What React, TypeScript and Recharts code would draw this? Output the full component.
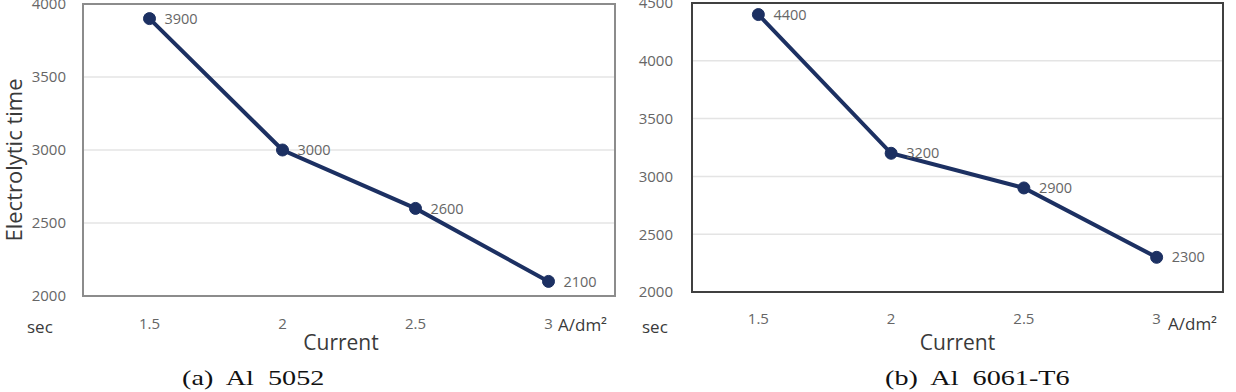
/* ── Electrolytic time vs current, two alloys side by side ── */

import {
  LineChart,
  Line,
  XAxis,
  YAxis,
  CartesianGrid,
  LabelList,
  ReferenceArea,
} from "recharts";

const currents = ["1.5", "2", "2.5", "3"];
const al5052Time = [3900, 3000, 2600, 2100];
const al6061Time = [4400, 3200, 2900, 2300];
const al5052Ticks = [2000, 2500, 3000, 3500, 4000];
const al6061Ticks = [2000, 2500, 3000, 3500, 4000, 4500];

const LINE = "#1c3062";
const TICK = "#666666";
const TITLE = "#3a3a3a";
const FONT = "'Open Sans', sans-serif";

interface TimeChartProps {
  values: number[];
  ticks: number[];
  width: number;
  height: number;
  yAxisWidth: number;
  xAxisHeight: number;
  margin: { top: number; right: number; left: number; bottom: number };
  yTickMargin: number;
  xTickMargin: number;
  borderColor: string;
  yTitle?: string;
  xTitleDx?: number;
}

function TimeChart(p: TimeChartProps) {
  const data = currents.map((c, i) => ({ current: c, time: p.values[i] }));
  const lo = p.ticks[0];
  const hi = p.ticks[p.ticks.length - 1];
  return (
    <LineChart width={p.width} height={p.height} data={data} margin={p.margin}>
      <CartesianGrid vertical={false} stroke="#e4e4e4" strokeWidth={1.5} />
      <XAxis
        dataKey="current"
        scale="band"
        height={p.xAxisHeight}
        tick={{ fontSize: 15, fill: TICK, fontFamily: FONT }}
        tickLine={false}
        axisLine={false}
        tickMargin={p.xTickMargin}
        label={{
          value: "Current",
          position: "insideBottom",
          offset: 10,
          dx: p.xTitleDx ?? 0,
          fontSize: 21,
          fill: TITLE,
          fontFamily: FONT,
        }}
      />
      <YAxis
        type="number"
        domain={[lo, hi]}
        ticks={p.ticks}
        width={p.yAxisWidth}
        tick={{ fontSize: 15, fill: TICK, fontFamily: FONT }}
        tickLine={false}
        axisLine={false}
        tickMargin={p.yTickMargin}
        interval={0}
        label={
          p.yTitle
            ? {
                value: p.yTitle,
                angle: -90,
                position: "center",
                dx: -27,
                dy: 10,
                fontSize: 22,
                fill: TITLE,
                fontFamily: FONT,
              }
            : undefined
        }
      />
      <ReferenceArea
        y1={lo}
        y2={hi}
        fill="none"
        stroke={p.borderColor}
        strokeWidth={2}
        ifOverflow="visible"
      />
      <Line
        type="linear"
        dataKey="time"
        stroke={LINE}
        strokeWidth={4}
        dot={{ r: 6, fill: LINE, stroke: LINE, strokeWidth: 1 }}
        isAnimationActive={false}
      >
        <LabelList
          dataKey="time"
          position="right"
          offset={15}
          fontSize={14.5}
          fill={TICK}
          fontFamily={FONT}
        />
      </Line>
    </LineChart>
  );
}

const note: React.CSSProperties = {
  position: "absolute",
  fontFamily: FONT,
  fontSize: 17,
  color: TITLE,
  lineHeight: "20px",
  whiteSpace: "pre",
};

const caption: React.CSSProperties = {
  position: "absolute",
  fontFamily: "'Liberation Serif', 'Times New Roman', serif",
  fontSize: 22,
  color: "#111",
  lineHeight: "26px",
  whiteSpace: "pre",
  transform: "scaleX(1.28)",
  transformOrigin: "left center",
};

export default function App() {
  return (
    <div
      style={{
        position: "absolute",
        left: 0,
        top: 0,
        width: 1236,
        height: 392,
        background: "#fff",
        overflow: "hidden",
      }}
    >
      <div style={{ position: "absolute", left: 0, top: 0 }}>
        <TimeChart
          values={al5052Time}
          ticks={al5052Ticks}
          width={620}
          height={360}
          yAxisWidth={83}
          xAxisHeight={64}
          margin={{ top: 4, right: 5, left: 0, bottom: 0 }}
          yTickMargin={11}
          xTickMargin={16}
          borderColor="#8c8c8c"
          yTitle="Electrolytic time"
          xTitleDx={-8}
        />
      </div>
      <div style={{ position: "absolute", left: 600, top: 0 }}>
        <TimeChart
          values={al6061Time}
          ticks={al6061Ticks}
          width={630}
          height={360}
          yAxisWidth={92}
          xAxisHeight={68}
          margin={{ top: 3, right: 7, left: 0, bottom: 0 }}
          yTickMargin={13}
          xTickMargin={15}
          borderColor="#404040"
        />
      </div>

      <div style={{ ...note, left: 27, top: 317 }}>sec</div>
      <div style={{ ...note, left: 558, top: 315 }}>A/dm²</div>
      <div style={{ ...note, left: 642, top: 317 }}>sec</div>
      <div style={{ ...note, left: 1168, top: 314 }}>A/dm²</div>

      <div style={{ ...caption, left: 182, top: 365 }}>(a)  Al  5052</div>
      <div style={{ ...caption, left: 885, top: 365 }}>(b)  Al  6061-T6</div>
    </div>
  );
}
